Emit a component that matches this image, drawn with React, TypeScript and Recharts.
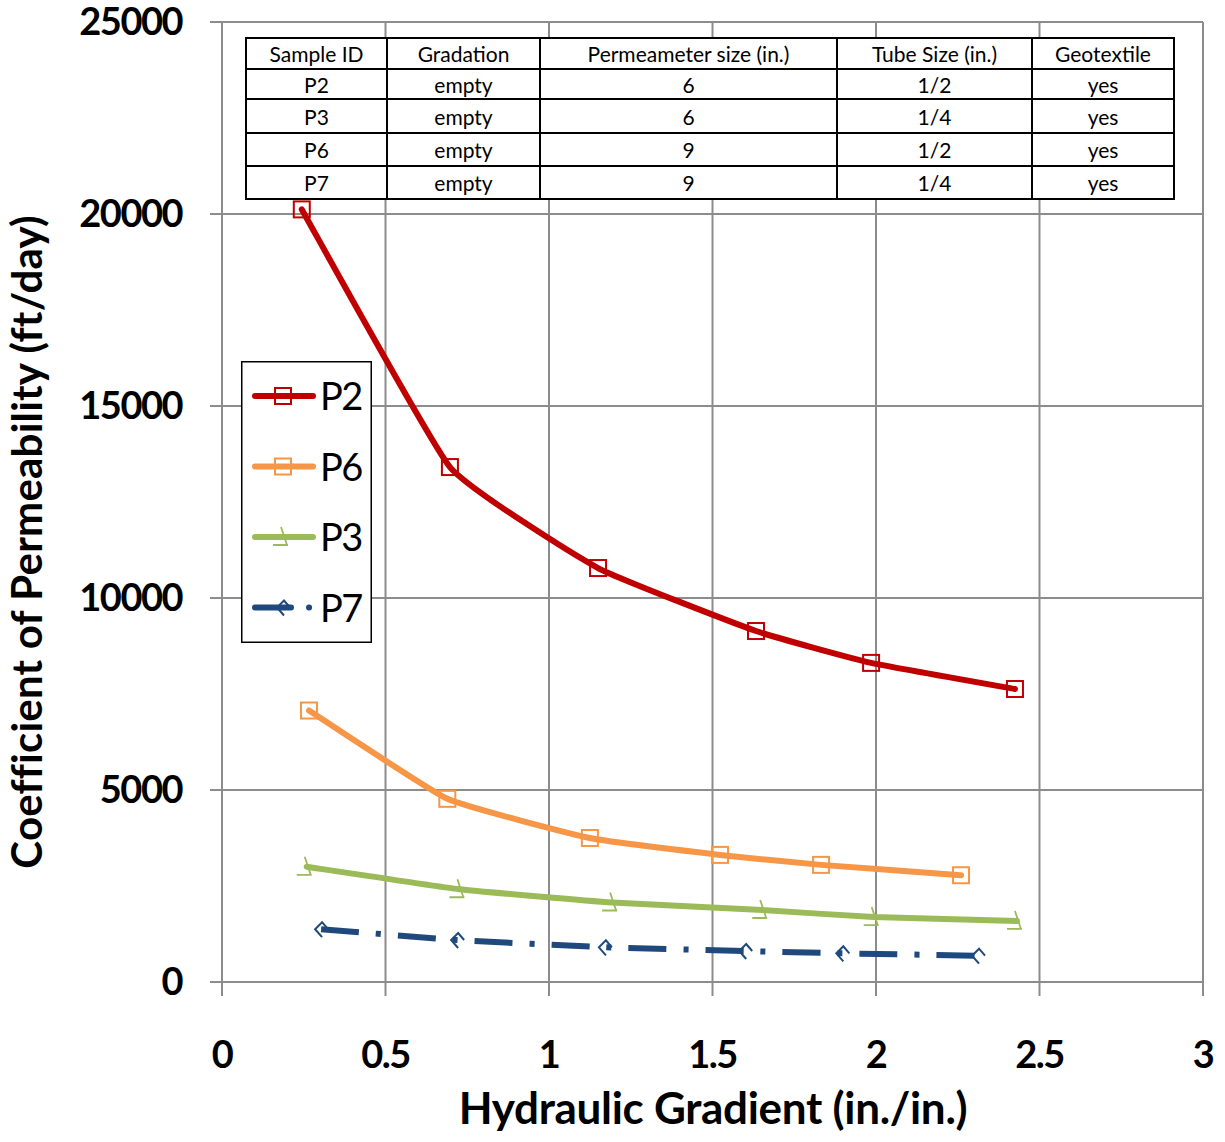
import { LineChart, Line, XAxis, YAxis, CartesianGrid, Legend } from "recharts";

// values
const p2X = [0.244, 0.697, 1.15, 1.633, 1.985, 2.425];
const p2Y = [20120, 13410, 10780, 9140, 8310, 7630];

const p6X = [0.266, 0.689, 1.125, 1.523, 1.832, 2.26];
const p6Y = [7070, 4770, 3750, 3310, 3050, 2780];

const p3X = [0.259, 0.726, 1.193, 1.652, 1.993, 2.431];
const p3Y = [3000, 2415, 2070, 1875, 1690, 1590];

const p7X = [0.303, 0.719, 1.171, 1.6, 1.897, 2.312];
const p7Y = [1375, 1094, 904, 807, 747, 685];

const xTicks = [0, 0.5, 1, 1.5, 2, 2.5, 3];
const yTicks = [0, 5000, 10000, 15000, 20000, 25000];

const tableHead = ["Sample ID", "Gradation", "Permeameter size (in.)", "Tube Size (in.)", "Geotextile"];
const tableRows = [
  ["P2", "empty", "6", "1/2", "yes"],
  ["P3", "empty", "6", "1/4", "yes"],
  ["P6", "empty", "9", "1/2", "yes"],
  ["P7", "empty", "9", "1/4", "yes"],
];

const zip = (xs: number[], ys: number[]) => xs.map((x, i) => ({ x, y: ys[i] }));

const FONT = "Lato, 'Noto Sans', sans-serif";
const GRID = "#8c8c8c";

// light smoothing: nearly straight segments, rounded at the points
const smooth = (context: any) => {
  let pts: number[][] = [];
  const k = 1 / 16;
  return {
    areaStart() {},
    areaEnd() {},
    lineStart() {
      pts = [];
    },
    lineEnd() {
      if (!pts.length) return;
      context.moveTo(pts[0][0], pts[0][1]);
      for (let i = 0; i < pts.length - 1; i++) {
        const p0 = pts[i - 1] || pts[i];
        const p1 = pts[i];
        const p2 = pts[i + 1];
        const p3 = pts[i + 2] || p2;
        context.bezierCurveTo(
          p1[0] + (p2[0] - p0[0]) * k,
          p1[1] + (p2[1] - p0[1]) * k,
          p2[0] - (p3[0] - p1[0]) * k,
          p2[1] - (p3[1] - p1[1]) * k,
          p2[0],
          p2[1]
        );
      }
    },
    point(x: number, y: number) {
      pts.push([+x, +y]);
    },
  };
};

type Kind = "square" | "hook" | "kite";

const series = [
  { name: "P2", color: "#C00000", kind: "square" as Kind, data: zip(p2X, p2Y), dash: undefined },
  { name: "P6", color: "#F79646", kind: "square" as Kind, data: zip(p6X, p6Y), dash: undefined },
  { name: "P3", color: "#9BBB59", kind: "hook" as Kind, data: zip(p3X, p3Y), dash: undefined },
  { name: "P7", color: "#1F497D", kind: "kite" as Kind, data: zip(p7X, p7Y), dash: "38 17 5 17" },
];

function Marker({ cx, cy, color, kind }: { cx: number; cy: number; color: string; kind: Kind }) {
  if (kind === "square") {
    return <rect x={cx - 8} y={cy - 8} width={16} height={16} fill="none" stroke={color} strokeWidth={2} />;
  }
  if (kind === "hook") {
    return (
      <path
        d={`M ${cx - 2} ${cy - 10} L ${cx + 4} ${cy + 8} M ${cx - 10} ${cy + 8} L ${cx + 5} ${cy + 8}`}
        fill="none"
        stroke={color}
        strokeWidth={1.8}
      />
    );
  }
  return (
    <path
      d={`M ${cx + 7} ${cy} L ${cx + 1} ${cy - 7} L ${cx - 6} ${cy} L ${cx + 1} ${cy + 8}`}
      fill="none"
      stroke={color}
      strokeWidth={2}
    />
  );
}

const XTick = (props: any) => {
  const { x, y, payload } = props;
  return (
    <text x={x} y={y + 72} textAnchor="middle" fontFamily={FONT} fontWeight={700} fontSize={38} letterSpacing={-1.5} fill="#000">
      {payload.value}
    </text>
  );
};

const YTick = (props: any) => {
  const { x, y, payload } = props;
  return (
    <text x={x} y={y + 13} textAnchor="end" fontFamily={FONT} fontWeight={700} fontSize={38} letterSpacing={-1.5} fill="#000">
      {payload.value}
    </text>
  );
};

function LegendBox() {
  return (
    <svg width={131} height={282} style={{ display: "block" }}>
      <rect x={0.75} y={0.75} width={129.5} height={280.5} fill="#fff" stroke="#000" strokeWidth={1.5} />
      {series.map((s, i) => {
        const cy = 35 + i * 70.5;
        return (
          <g key={s.name}>
            <line x1={14} y1={cy} x2={72} y2={cy} stroke={s.color} strokeWidth={6} strokeLinecap="round" strokeDasharray={s.dash ? "36 18 0.1 18" : undefined} />
            <Marker cx={42} cy={cy} color={s.color} kind={s.kind} />
            <text x={79} y={cy + 14} fontFamily={FONT} fontSize={38} letterSpacing={-1.5} fill="#000">
              {s.name}
            </text>
          </g>
        );
      })}
    </svg>
  );
}

const colW = [141, 153, 297, 195, 142];
const rowH = [31, 30, 34, 33, 33];

function InfoTable() {
  const cell = (w: number, h: number): React.CSSProperties => ({
    width: w,
    height: h,
    border: "2px solid #000",
    padding: 0,
    textAlign: "center",
    verticalAlign: "middle",
    fontFamily: FONT,
    fontSize: 21,
    lineHeight: "20px",
    boxSizing: "border-box",
  });
  return (
    <table
      style={{
        position: "absolute",
        left: 245,
        top: 37,
        width: 928,
        borderCollapse: "collapse",
        background: "#fff",
        tableLayout: "fixed",
      }}
    >
      <tbody>
        <tr>
          {tableHead.map((t, j) => (
            <td key={t} style={cell(colW[j], rowH[0])}>{t}</td>
          ))}
        </tr>
        {tableRows.map((r, i) => (
          <tr key={r[0]}>
            {r.map((t, j) => (
              <td key={j} style={{ ...cell(colW[j], rowH[i + 1]), paddingTop: 1 }}>{t}</td>
            ))}
          </tr>
        ))}
      </tbody>
    </table>
  );
}

export default function App() {
  return (
    <div style={{ position: "absolute", left: 0, top: 0, width: 1225, height: 1142, background: "#fff" }}>
      <LineChart width={1225} height={1142} margin={{ top: 22, right: 22, left: 0, bottom: 0 }}>
        <CartesianGrid stroke={GRID} strokeWidth={2} horizontalValues={yTicks} verticalValues={xTicks} />
        <XAxis
          type="number"
          dataKey="x"
          domain={[0, 3]}
          ticks={xTicks}
          height={160}
          tickSize={14}
          tickMargin={0}
          axisLine={{ stroke: GRID, strokeWidth: 2 }}
          tickLine={{ stroke: GRID, strokeWidth: 2 }}
          tick={<XTick />}
          label={{
            content: () => (
              <text x={713} y={1124} textAnchor="middle" fontFamily={FONT} fontWeight={700} fontSize={44} letterSpacing={-0.3} fill="#000">
                Hydraulic Gradient (in./in.)
              </text>
            ),
          }}
        />
        <YAxis
          type="number"
          domain={[0, 25000]}
          ticks={yTicks}
          width={222}
          tickSize={12}
          tickMargin={28}
          axisLine={{ stroke: GRID, strokeWidth: 2 }}
          tickLine={{ stroke: GRID, strokeWidth: 2 }}
          tick={<YTick />}
          label={{
            content: () => (
              <text
                x={42}
                y={542}
                transform="rotate(-90 42 542)"
                textAnchor="middle"
                fontFamily={FONT}
                fontWeight={700}
                fontSize={42}
                letterSpacing={0.2}
                fill="#000"
              >
                Coefficient of Permeability (ft/day)
              </text>
            ),
          }}
        />
        {series.map((s) => (
          <Line
            key={s.name}
            data={s.data}
            dataKey="y"
            name={s.name}
            type={smooth as any}
            stroke={s.color}
            strokeWidth={6}
            strokeDasharray={s.dash}
            strokeLinecap={s.dash ? "butt" : "round"}
            strokeLinejoin="round"
            dot={(p: any) => <Marker key={`${s.name}-${p.index}`} cx={p.cx} cy={p.cy} color={s.color} kind={s.kind} />}
            activeDot={false}
            isAnimationActive={false}
          />
        ))}
        <Legend
          layout="vertical"
          align="center"
          verticalAlign="middle"
          wrapperStyle={{ left: 241, top: 361, width: 131, height: 282 }}
          content={() => <LegendBox />}
        />
      </LineChart>
      <InfoTable />
    </div>
  );
}
